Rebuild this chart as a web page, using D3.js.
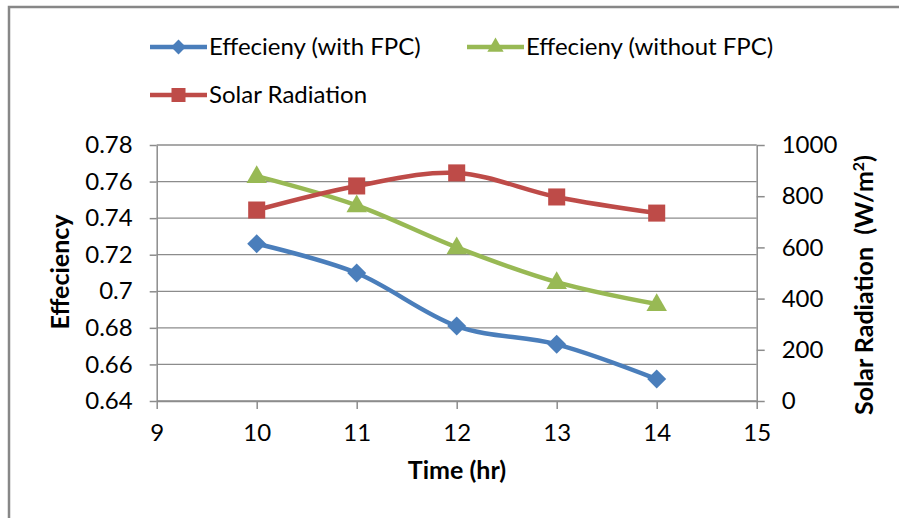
<!DOCTYPE html>
<html>
<head>
<meta charset="utf-8">
<script src="https://cdn.jsdelivr.net/npm/d3@7"></script>
<style>
  html, body { margin: 0; padding: 0; background: #fff; }
  svg { display: block; }
  text { font-family: Lato, "Open Sans", sans-serif; fill: #000; }
</style>
</head>
<body>
<svg id="chart" width="899" height="518"></svg>
<script>
// Hours of the day (x values)
const hours = [10, 11, 12, 13, 14];
// Efficiency with the flat plate collector
const effWithFPC = [0.726, 0.710, 0.681, 0.671, 0.652];
// Efficiency without the flat plate collector
const effWithoutFPC = [0.763, 0.747, 0.724, 0.705, 0.693];
// Solar radiation, W/m²
const solarRadiation = [746, 840, 891, 797, 734];

// Axis ticks
const xTicks = [9, 10, 11, 12, 13, 14, 15];
const leftTicks = [0.64, 0.66, 0.68, 0.70, 0.72, 0.74, 0.76, 0.78];
const leftTickLabels = ["0.64", "0.66", "0.68", "0.7", "0.72", "0.74", "0.76", "0.78"];
const rightTicks = [0, 200, 400, 600, 800, 1000];

const seriesNames = ["Effecieny (with FPC)", "Effecieny (without FPC)", "Solar Radiation"];

const svg = d3.select("#chart");
const W = 899, H = 518;
const plotLeft = 156.7, plotRight = 756.7, plotTop = 145, plotBottom = 401;

const gridColor = "#8c8c8c";
const axisColor = "#8c8c8c";
const blue = "#4A7EBB", green = "#98B954", red = "#BE4B48";

const x = d3.scaleLinear().domain([9, 15]).range([plotLeft, plotRight]);
const yL = d3.scaleLinear().domain([0.64, 0.78]).range([plotBottom, plotTop]);
const yR = d3.scaleLinear().domain([0, 1000]).range([plotBottom, plotTop]);

// Outer chart frame
svg.append("rect")
  .attr("x", 9).attr("y", 7)
  .attr("width", W + 20).attr("height", H + 20)
  .attr("fill", "none").attr("stroke", "#878787").attr("stroke-width", 2.5);

// Horizontal gridlines from the left axis
svg.append("g")
  .selectAll("line").data(leftTicks).join("line")
  .attr("x1", plotLeft).attr("x2", plotRight)
  .attr("y1", d => yL(d)).attr("y2", d => yL(d))
  .attr("stroke", gridColor).attr("stroke-width", 1.3);

// Left axis
const gLeft = svg.append("g").attr("transform", `translate(${plotLeft},0)`)
  .call(d3.axisLeft(yL).tickValues(leftTicks)
    .tickFormat((d, i) => leftTickLabels[i]).tickSize(7).tickSizeOuter(0).tickPadding(17));
// Right axis
const gRight = svg.append("g").attr("transform", `translate(${plotRight},0)`)
  .call(d3.axisRight(yR).tickValues(rightTicks).tickFormat(d3.format("d"))
    .tickSize(8).tickSizeOuter(0).tickPadding(17));
// Bottom axis
const gBottom = svg.append("g").attr("transform", `translate(0,${plotBottom})`)
  .call(d3.axisBottom(x).tickValues(xTicks).tickFormat(d3.format("d"))
    .tickSize(8).tickSizeOuter(0).tickPadding(15));

[gLeft, gRight, gBottom].forEach(g => {
  g.select(".domain").attr("stroke", axisColor).attr("stroke-width", 1.5);
  g.selectAll(".tick line").attr("stroke", axisColor).attr("stroke-width", 1.5);
  g.selectAll(".tick text")
    .attr("font-family", "Lato, 'Open Sans', sans-serif")
    .attr("font-size", 24).attr("fill", "#262626");
});

// Axis titles
svg.append("text")
  .attr("transform", "translate(69,272) rotate(-90)")
  .attr("text-anchor", "middle")
  .attr("font-size", 25).attr("font-weight", "bold")
  .text("Effeciency");

svg.append("text")
  .attr("x", 457).attr("y", 479)
  .attr("text-anchor", "middle")
  .attr("font-size", 25).attr("font-weight", "bold")
  .text("Time (hr)");

const rt = svg.append("text")
  .attr("transform", "translate(873,285) rotate(-90)")
  .attr("text-anchor", "middle")
  .attr("font-size", 25).attr("font-weight", "bold")
  .style("white-space", "pre");
rt.append("tspan").text("Solar Radiation  (W/m");
rt.append("tspan").attr("font-size", 16).attr("dy", -9).text("2");
rt.append("tspan").attr("dy", 9).text(")");

// Series lines (smoothed)
const series = [
  { name: seriesNames[0], values: effWithFPC, y: yL, color: blue, marker: "diamond" },
  { name: seriesNames[1], values: effWithoutFPC, y: yL, color: green, marker: "triangle" },
  { name: seriesNames[2], values: solarRadiation, y: yR, color: red, marker: "square" }
];

const symbolFor = {
  diamond: (s) => d3.symbol().type(d3.symbolDiamond2).size(s)(),
  triangle: (s) => d3.symbol().type(d3.symbolTriangle2).size(s)(),
  square: (s) => d3.symbol().type(d3.symbolSquare2).size(s)()
};
const markerSize = { diamond: 230, triangle: 300, square: 370 };
const legendMarkerSize = { diamond: 140, triangle: 190, square: 250 };

series.forEach(s => {
  const line = d3.line()
    .x((d, i) => x(hours[i]))
    .y(d => s.y(d))
    .curve(d3.curveCatmullRom.alpha(0));
  svg.append("path")
    .attr("d", line(s.values))
    .attr("fill", "none").attr("stroke", s.color)
    .attr("stroke-width", 4.5).attr("stroke-linejoin", "round");
});

series.forEach(s => {
  svg.append("g").selectAll("path").data(s.values).join("path")
    .attr("transform", (d, i) => `translate(${x(hours[i])},${s.y(d) + (s.marker === "triangle" ? 1 : 0)})`)
    .attr("d", symbolFor[s.marker](markerSize[s.marker]))
    .attr("fill", s.color);
});

// Legend
const legendPos = [
  { lx: 150, ly: 47 },
  { lx: 467, ly: 47 },
  { lx: 150, ly: 95 }
];
series.forEach((s, i) => {
  const p = legendPos[i];
  const g = svg.append("g").attr("transform", `translate(${p.lx},${p.ly})`);
  g.append("line").attr("x1", 0).attr("x2", 57).attr("y1", 0).attr("y2", 0)
    .attr("stroke", s.color).attr("stroke-width", 4.5);
  g.append("path").attr("transform", "translate(28.5,0)")
    .attr("d", symbolFor[s.marker](legendMarkerSize[s.marker]))
    .attr("fill", s.color);
  g.append("text").attr("x", 59).attr("y", 0).attr("dy", "0.35em")
    .attr("font-size", 24).attr("fill", "#262626")
    .text(s.name);
});
</script>
</body>
</html>
